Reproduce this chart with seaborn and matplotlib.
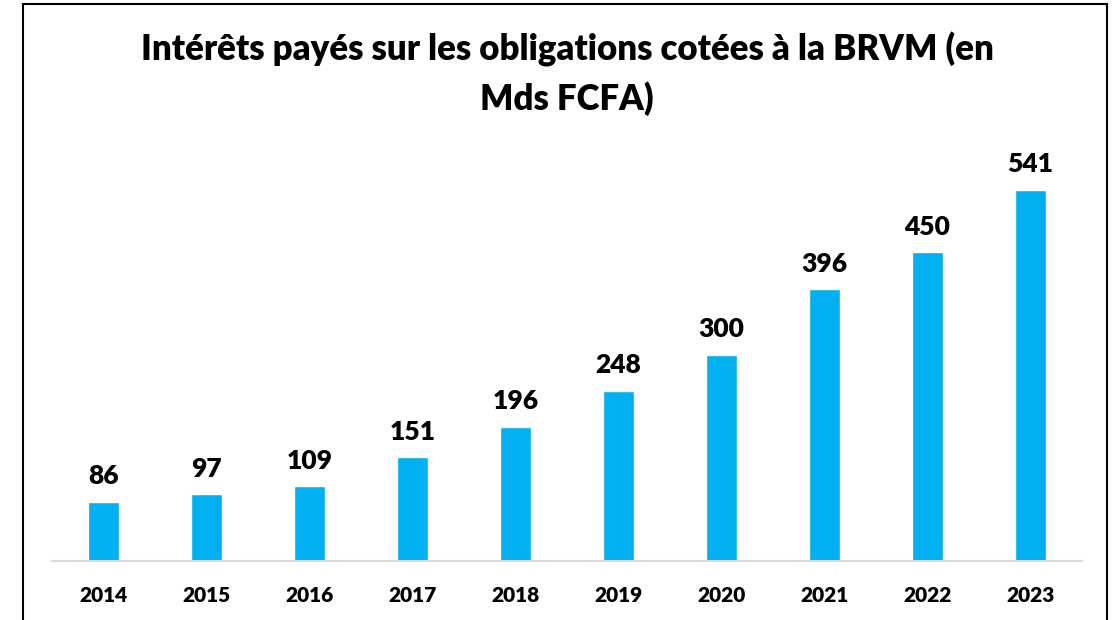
import matplotlib
matplotlib.use("Agg")
import matplotlib.pyplot as plt
import seaborn as sns
import pandas as pd
from matplotlib.patches import Rectangle

years = ["2014", "2015", "2016", "2017", "2018", "2019", "2020", "2021", "2022", "2023"]
values = [86, 97, 109, 151, 196, 248, 300, 396, 450, 541]
title = "Intérêts payés sur les obligations cotées à la BRVM (en\nMds FCFA)"

sns.set_theme(style="white")
plt.rcParams['font.family'] = ['Lato', 'DejaVu Sans']
plt.rcParams['text.color'] = 'black'
plt.rcParams['xtick.color'] = 'black'

df = pd.DataFrame({"year": years, "value": values})

fig = plt.figure(figsize=(11.12, 6.2), dpi=100)
ax = fig.add_axes([52/1112, 1 - 561/620, 1030/1112, (561 - 149.4)/620])
sns.barplot(data=df, x="year", y="value", color="#00B0F0", saturation=1,
            width=0.31, ax=ax)
ax.set_xlim(-0.5, 9.5)
ax.set_ylim(0, 600)
for i, v in enumerate(values):
    ax.text(i, v + 20, str(v), ha="center", va="bottom", fontsize=19,
            fontweight="heavy", color="black")
ax.set_xlabel("")
ax.set_ylabel("")
ax.set_yticks([])
for s in ["top", "right", "left"]:
    ax.spines[s].set_visible(False)
ax.spines["bottom"].set_color("#D9D9D9")
ax.spines["bottom"].set_linewidth(1.5)
ax.tick_params(axis="x", length=0, pad=18, labelsize=15, labelcolor="black")
for lbl in ax.get_xticklabels():
    lbl.set_fontweight("heavy")
ax.patch.set_alpha(0)

fig.text(567/1112, 1 - 74/620, title, ha="center", va="center", fontsize=25,
         fontweight="heavy", linespacing=1.5, color="black")

fig.patches.append(Rectangle((23/1112, -0.05), (1107 - 23)/1112, 1.05 - 4/620,
                             transform=fig.transFigure, fill=False,
                             edgecolor="black", linewidth=1.5))
fig.savefig("out.png", dpi=100)
